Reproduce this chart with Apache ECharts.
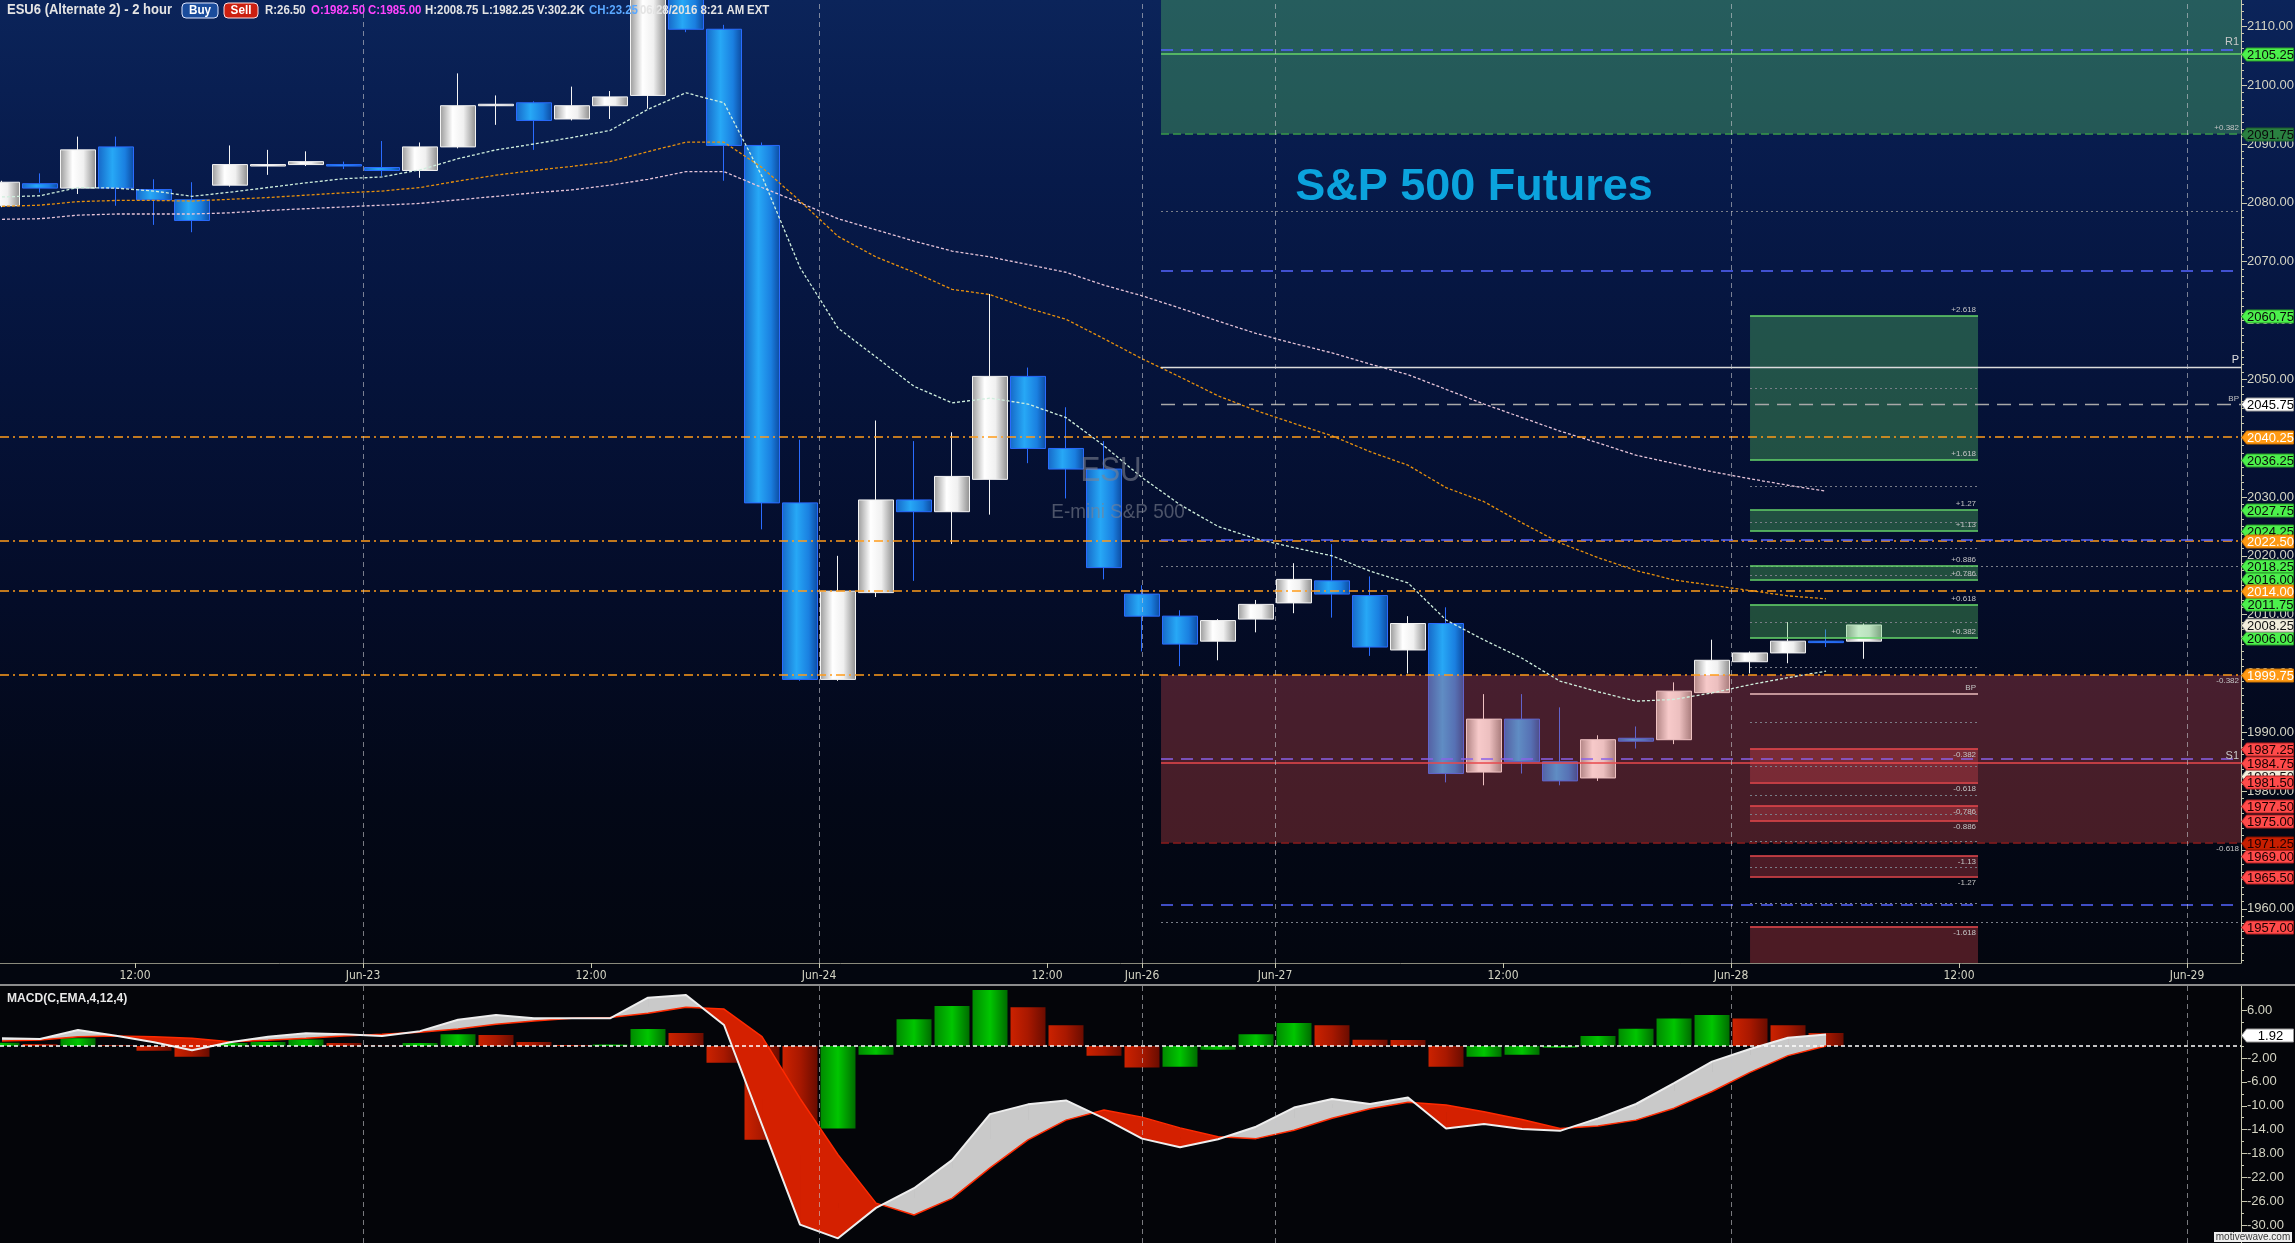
<!DOCTYPE html>
<html>
<head>
<meta charset="utf-8">
<title>ESU6 (Alternate 2) - 2 hour</title>
<script src="https://cdn.jsdelivr.net/npm/echarts@6/dist/echarts.min.js"></script>
<style>
html,body{margin:0;padding:0;background:#03060f;overflow:hidden;}
#wrap{position:relative;width:2295px;height:1243px;}
#bgTop{position:absolute;left:0;top:0;width:2295px;height:985px;background:linear-gradient(180deg,#0b245a 0px,#071a4a 180px,#05133a 380px,#040c28 600px,#030817 800px,#03060f 963px,#03060f 985px);}
#bgBot{position:absolute;left:0;top:985px;width:2295px;height:258px;background:#040509;}
#chart{position:absolute;left:0;top:0;width:2295px;height:1243px;}
</style>
</head>
<body>
<div id="wrap"><div id="bgTop"></div><div id="bgBot"></div><div id="chart"></div></div>
<script>
const NARROW = "'Liberation Sans Narrow','DejaVu Sans Condensed','Liberation Sans',Arial,sans-serif";
const SANS = "'Liberation Sans',Arial,sans-serif";

// x unit: trading-hour slot (hours since Jun-22 00:00, weekend gap removed)
const X_MIN = 4.895, X_MAX = 122.84;
const PRICE_MIN = 1950.8, PRICE_MAX = 2114.47;
const MACD_MIN = -32.98, MACD_MAX = 10.23;

const xTickHours  = [12, 24, 36, 48, 60, 65, 72, 84, 96, 108, 120];
const xTickLabels = ['12:00','Jun-23','12:00','Jun-24','12:00','Jun-26','Jun-27','12:00','Jun-28','12:00','Jun-29'];
const dayLineHours = [24, 48, 65, 72, 96, 120];
const priceTicks = [1960,1970,1980,1990,2000,2010,2020,2030,2040,2050,2060,2070,2080,2090,2100,2110];
const macdTicks = [6,2,-2,-6,-10,-14,-18,-22,-26,-30];
const macdMinorTicks = [8,4,0,-4,-8,-12,-16,-20,-24,-28,-32];

// 2-hour candles
const candleHours = [5,7,9,11,13,15,17,19,21,23,25,27,29,31,33,35,37,39,41,43,45,47,49,51,53,55,57,59,61,63,65,67,69,71,73,75,77,79,81,83,85,87,89,91,93,95,97,99,101,103];
const open  = [2079.5,2083.25,2082.5,2089.5,2082.25,2080.5,2083,2086.25,2086.5,2086.5,2086,2085.5,2089.5,2096.5,2097,2094.25,2096.5,2098.25,2116,2109.5,2089.75,2029,1999,2013.75,2029.5,2027.5,2033,2050.5,2038.25,2034.75,2013.5,2009.75,2005.5,2009.25,2012,2015.75,2013.25,2004,2008.5,1983.25,1992.25,1985,1982.25,1989,1988.75,1996.75,2002,2003.5,2005.5,2005.5];
const close = [2083.5,2082.5,2089,2082.5,2080.5,2077,2086.5,2086.5,2087,2086.25,2085.5,2089.5,2096.5,2096.75,2094,2096.5,2098,2116,2109.5,2089.75,2029,1999,2014,2029.5,2027.5,2033.5,2050.5,2038.25,2034.75,2018,2009.75,2005,2009,2011.75,2016,2013.5,2004.5,2008.5,1983,1992.25,1985,1981.75,1988.75,1988.5,1997,2002.25,2003.5,2005.5,2005.25,2008.25];
const low   = [2079.25,2081.75,2081.5,2079.5,2076.25,2075,2082.75,2084.75,2086.25,2085.75,2084.5,2084.25,2089.25,2093.25,2089,2094,2094.25,2096,2109,2083.75,2024.5,1998.75,1998.75,2013,2015.75,2022,2027,2035.75,2029.75,2016,2003.75,2001.25,2002.25,2007,2010.25,2009.5,2003,2000,1981.5,1981,1983,1981,1981.75,1987.25,1988,1996.5,2000,2001.75,2004.5,2002.5];
const high  = [2083.75,2085,2091.25,2091.25,2084,2083.5,2089.75,2089,2088.75,2087,2090.5,2090.25,2102,2098.25,2097.25,2099.75,2099,2118,2118.5,2110.25,2090.25,2039.75,2020,2043,2039.5,2041,2064.5,2052,2045.25,2039.5,2015,2010.75,2009.25,2012.5,2018.75,2022,2016.5,2009.75,2011.25,1996.5,1996.5,1994.25,1989.5,1991,1998.5,2005.75,2003.75,2008.75,2007.5,2008.5];

// study values (moving averages and MACD) per candle, last candle excluded
const studyHours = [5,7,9,11,13,15,17,19,21,23,25,27,29,31,33,35,37,39,41,43,45,47,49,51,53,55,57,59,61,63,65,67,69,71,73,75,77,79,81,83,85,87,89,91,93,95,97,99,101];
const maFast = [2081.0,2081.2,2082.6,2082.5,2082.0,2081.1,2081.8,2082.6,2083.4,2084.1,2084.4,2085.6,2087.5,2089.0,2090.0,2091.1,2092.3,2095.9,2098.7,2097.0,2084.5,2069.0,2058.7,2053.8,2048.8,2046.0,2046.8,2045.8,2043.5,2038.7,2033.3,2028.7,2025.0,2022.9,2021.4,2020.0,2017.4,2015.4,2009.1,2005.7,2002.6,1998.7,1996.9,1995.3,1995.6,1996.7,1998.1,1999.3,2000.4];
const maMid  = [2079.4,2079.6,2080.2,2080.4,2080.4,2080.3,2080.6,2080.9,2081.3,2081.7,2082.0,2082.6,2083.7,2084.7,2085.5,2086.2,2087.0,2088.7,2090.3,2090.3,2086.0,2080.3,2074.3,2070.8,2068.2,2065.3,2064.4,2062.1,2060.2,2056.9,2053.5,2050.4,2047.2,2044.7,2042.5,2040.4,2037.7,2035.4,2031.6,2029.2,2025.6,2022.2,2019.7,2017.5,2015.9,2015.0,2014.1,2013.2,2012.7];
const maSlow = [2077.2,2077.3,2077.9,2078.1,2078.1,2078.1,2078.3,2078.7,2079.0,2079.3,2079.6,2079.9,2080.5,2081.1,2081.7,2082.2,2083.0,2084.0,2085.3,2085.3,2082.6,2080.0,2077.3,2075.4,2073.5,2071.8,2070.8,2069.5,2068.2,2066.0,2064.2,2062.1,2059.9,2057.8,2056.1,2054.5,2052.6,2050.8,2048.3,2045.8,2043.5,2041.2,2039.2,2037.1,2035.7,2034.3,2033.1,2032.0,2031.0];
const macdHist   = [0.55,0.35,1.3,0.15,-0.8,-1.8,0.5,0.7,1.1,0.5,0.05,0.5,2.0,1.85,0.67,0.17,0.25,2.85,2.18,-2.8,-15.7,-21.7,-13.8,-1.45,4.5,6.7,9.4,6.5,3.5,-1.6,-3.6,-3.45,-0.6,2.0,3.85,3.5,1.05,1.0,-3.45,-1.8,-1.45,-0.3,1.7,2.9,4.6,5.2,4.6,3.5,2.2];
const macdLine   = [1.3,1.2,2.7,1.74,0.63,-0.7,0.63,1.57,2.13,1.97,1.69,2.5,4.4,5.2,4.65,4.65,4.65,8.1,8.56,3.53,-13.2,-29.9,-32.2,-27.1,-23.8,-19.1,-11.4,-9.76,-9.1,-12.1,-15.5,-16.96,-15.6,-13.5,-10.3,-8.87,-9.7,-8.6,-13.8,-13.05,-13.9,-14.2,-12.1,-9.7,-6.2,-2.6,-0.49,1.4,1.92];
const macdSignal = [0.85,1.0,1.57,1.69,1.57,1.3,0.74,0.96,1.3,1.69,1.97,2.3,2.86,3.64,4.2,4.65,4.8,5.48,6.5,6.2,1.57,-8.75,-18.2,-26.3,-28.3,-25.5,-20.4,-15.7,-12.4,-10.7,-11.9,-13.7,-15.2,-15.5,-14.1,-12.1,-10.5,-9.4,-9.87,-11.0,-12.3,-13.8,-13.4,-12.4,-10.4,-7.6,-4.4,-1.6,0.0];

// price levels
const levelsStartHour = 66;
const boxStartHour = 97, boxEndHour = 109;
const orangeLevels = [2040.25, 2022.5, 2014.0, 1999.75];
const blueLevels = [2068.5, 2022.75, 1960.75];
const grayDottedLevels = [2078.5, 2018.25, 1957.75];
const levelR1 = 2106.0, levelR1Fib = 2105.25, pivotP = 2052.0, pivotBP = 2045.75;
const levelPurple = 1985.5, levelS1 = 1984.75;
const greenZone = [2091.75, 2118.0];
const redZone = [1971.25, 1999.75];
const greenBoxes = [[2036.25, 2060.75, '+1.618', '+2.618'], [2024.25, 2027.75, '+1.13', '+1.27'], [2016.0, 2018.25, '+0.786', '+0.886'], [2006.0, 2011.75, '+0.382', '+0.618']];
const redBoxes = [[1981.5, 1987.25, '-0.618', '-0.382'], [1975.0, 1977.5, '-0.886', '-0.786'], [1965.5, 1969.0, '-1.27', '-1.13'], [1940.0, 1957.0, '', '-1.618']];
const boxDottedLevels = [2048.5, 2031.75, 2025.75, 2021.25, 2016.75, 2008.75, 2001.0, 1991.75, 1984.25, 1979.25, 1976.0, 1971.5, 1967.0, 1961.0];
const boxBP = 1996.5;

// right-axis value tags
const tagCream  = [1982.5];
const tagGreen  = [2105.25, 2060.75, 2036.25, 2027.75, 2024.25, 2018.25, 2016.0, 2011.75, 2006.0];
const tagDarkGreen = [2091.75];
const tagWhite  = [2045.75];
const tagOrange = [2040.25, 2022.5, 2014.0, 1999.75];
const tagRed    = [1987.25, 1984.75, 1981.5, 1977.5, 1975.0, 1969.0, 1965.5, 1957.0];
const tagDarkRed = [1971.25];
const tagLast   = [2008.25];

// header strip
const headerItems = [
  ['R:26.50', 265, '#e4e4e4'], ['O:1982.50', 311, '#ff44ff'], ['C:1985.00', 368, '#ff44ff'],
  ['H:2008.75', 425, '#e4e4e4'], ['L:1982.25', 482, '#e4e4e4'], ['V:302.2K', 537, '#e4e4e4'],
  ['CH:23.25', 589, '#5aa8ff'], ['06/28/2016 8:21 AM', 640, '#e4e4e4'], ['EXT', 747, '#e4e4e4']
];

// ---------- styles ----------
function hgrad(stops){ return {type:'linear',x:0,y:0,x2:1,y2:0,colorStops:stops.map(s=>({offset:s[0],color:s[1]}))}; }
const BLUE_BODY  = hgrad([[0,'#1668c8'],[0.4,'#27a8f6'],[0.75,'#1a7fe0'],[1,'#0c4aa0']]);
const WHITE_BODY = hgrad([[0,'#9a9a9a'],[0.35,'#ffffff'],[0.65,'#f0f0f0'],[1,'#8c8c8c']]);
const GREEN_BAR  = hgrad([[0,'#008a00'],[0.5,'#00c600'],[1,'#006c00']]);
const RED_BAR    = hgrad([[0,'#cc2200'],[0.5,'#a81800'],[1,'#6a0c00']]);

const ORANGE = {color:'#ff9c1a', width:1.5, type:[9,4,2,4]};
const BLUE_DASH = {color:'#5566ff', width:1.5, type:[12,8]};
const GRAY_DOT = {color:'#7a7e88', width:1, type:[2,3]};
const GRAY_DASH = {color:'#a8a8a8', width:1.3, type:[14,8]};
const WHITE_SOLID = {color:'#dcdcdc', width:1.3, type:'solid'};
const GREEN_SOLID = {color:'#66d46a', width:1.5, type:'solid'};
const GREEN_DASH = {color:'#3a9a4a', width:1.5, type:[8,4]};
const RED_SOLID = {color:'#e8484c', width:1.5, type:'solid'};
const RED_DASH = {color:'#8c1c1c', width:1.5, type:[8,4]};
const PURPLE_DASH = {color:'#8a62e8', width:1.5, type:[12,8]};
const PINK_SOLID = {color:'#ecbcbc', width:1.5, type:'solid'};
const DAY_LINE = {color:'rgba(200,200,205,0.6)', width:1, type:[5,4]};

function lab(text, pos, size, color){ return {show:true, formatter:text, position:pos, fontSize:size, color:color||'#c4c4c4', fontFamily:SANS, distance:2}; }
const NOLAB = {show:false};

// ---------- marker construction ----------
const mainLines = [];
function seg(v, x0, x1, style, label){ mainLines.push([{coord:[x0, v], lineStyle:style, label:label||NOLAB}, {coord:[x1, v]}]); }
orangeLevels.forEach(v => seg(v, X_MIN, X_MAX, ORANGE, v === redZone[1] ? lab('-0.382','insideEndBottom',8) : null));
blueLevels.forEach(v => seg(v, levelsStartHour, X_MAX, BLUE_DASH));
grayDottedLevels.forEach(v => seg(v, levelsStartHour, X_MAX, GRAY_DOT));
seg(levelR1, levelsStartHour, X_MAX, BLUE_DASH, lab('R1','insideEndTop',11,'#c8c8c8'));
seg(levelR1Fib, levelsStartHour, X_MAX, GREEN_SOLID);
seg(greenZone[0], levelsStartHour, X_MAX, GREEN_DASH, lab('+0.382','insideEndTop',8));
seg(pivotP, levelsStartHour, X_MAX, WHITE_SOLID, lab('P','insideEndTop',11,'#e0e0e0'));
seg(pivotBP, levelsStartHour, X_MAX, GRAY_DASH, lab('BP','insideEndTop',8));
seg(levelPurple, levelsStartHour, X_MAX, PURPLE_DASH);
seg(levelS1, levelsStartHour, X_MAX, RED_SOLID, lab('S1','insideEndTop',11,'#c8c8c8'));
seg(redZone[0], levelsStartHour, X_MAX, RED_DASH, lab('-0.618','insideEndBottom',8));
boxDottedLevels.forEach(v => seg(v, boxStartHour, boxEndHour, GRAY_DOT));
seg(boxBP, boxStartHour, boxEndHour, PINK_SOLID, lab('BP','insideEndTop',8));
greenBoxes.forEach(b => { seg(b[0], boxStartHour, boxEndHour, GREEN_SOLID, lab(b[2],'insideEndTop',8)); seg(b[1], boxStartHour, boxEndHour, GREEN_SOLID, lab(b[3],'insideEndTop',8)); });
redBoxes.forEach(b => { if (b[2]) seg(b[0], boxStartHour, boxEndHour, RED_SOLID, lab(b[2],'insideEndBottom',8)); seg(b[1], boxStartHour, boxEndHour, RED_SOLID, lab(b[3],'insideEndBottom',8)); });

const ZONE_GREEN = 'rgba(90,200,100,0.35)';
const ZONE_RED = 'rgba(230,80,80,0.30)';
const BOX_RED = 'rgba(230,70,80,0.32)';
const areas = [];
areas.push([{coord:[levelsStartHour, greenZone[0]], itemStyle:{color:ZONE_GREEN}}, {coord:[X_MAX, greenZone[1]]}]);
areas.push([{coord:[levelsStartHour, redZone[0]], itemStyle:{color:ZONE_RED}}, {coord:[X_MAX, redZone[1]]}]);
greenBoxes.forEach(b => areas.push([{coord:[boxStartHour, b[0]], itemStyle:{color:ZONE_GREEN}}, {coord:[boxEndHour, b[1]]}]));
redBoxes.forEach(b => areas.push([{coord:[boxStartHour, b[0]], itemStyle:{color:BOX_RED}}, {coord:[boxEndHour, b[1]]}]));

// minor ticks for price axis (every 1.25 pt)
const priceMinorTicks = [];
for (let k = 1; k * 1.25 + 1950 < PRICE_MAX; k++) { const v = 1950 + k * 1.25; if (v % 10 !== 0 && v > PRICE_MIN) priceMinorTicks.push(v); }

// ---------- tag renderer ----------
const TAG_STYLE = {
  cream:{bg:'#f2eedc', fg:'#111', border:'#9a9a90'},
  green:{bg:'#4cf04c', fg:'#0a0a0a', border:'#2a9a2a'},
  darkgreen:{bg:'#2a8040', fg:'#0a0a0a', border:'#1a5a2a'},
  white:{bg:'#ffffff', fg:'#000', border:'#999'},
  orange:{bg:'#ff9a14', fg:'#ffffff', border:'#c87000'},
  red:{bg:'#ff4a4a', fg:'#1a0000', border:'#b02020'},
  darkred:{bg:'#c81e00', fg:'#200000', border:'#801000'}
};
function tagSeries(values, st, xi, yi){
  return {type:'custom', xAxisIndex:xi, yAxisIndex:yi, z:8, silent:true, clip:false, animation:false,
    data: values.map(v => [X_MAX, v]), encode:{x:0, y:1},
    renderItem: (params, api) => {
      const p = api.coord([api.value(0), api.value(1)]);
      const x = p[0] + 0.5, y = Math.round(p[1]) + 0.5;
      return {type:'group', children:[
        {type:'polygon', shape:{points:[[x,y],[x+5,y-6.5],[x+52,y-6.5],[x+52,y+6.5],[x+5,y+6.5]]}, style:{fill:st.bg, stroke:st.border, lineWidth:1}},
        {type:'text', style:{text:api.value(1).toFixed(2), x:x+29, y:y+1, align:'center', verticalAlign:'middle', fill:st.fg, font:'13px ' + SANS}}
      ]};
    }};
}

// ---------- MACD fill renderer ----------
function macdFill(params, api){
  const i = params.dataIndex;
  if (i >= macdLine.length - 1) return null;
  const h0 = studyHours[i], h1 = studyHours[i+1];
  const m0 = macdLine[i], m1 = macdLine[i+1], s0 = macdSignal[i], s1 = macdSignal[i+1];
  const d0 = m0 - s0, d1 = m1 - s1;
  const C = (h, v) => api.coord([h, v]);
  const GRAY = '#c9c9c9', RED = '#d42000';
  if (d0 * d1 >= 0) {
    return {type:'polygon', shape:{points:[C(h0,m0), C(h1,m1), C(h1,s1), C(h0,s0)]}, style:{fill:(d0 + d1) >= 0 ? GRAY : RED}};
  }
  const t = d0 / (d0 - d1);
  const hx = h0 + t * (h1 - h0), vx = m0 + t * (m1 - m0);
  return {type:'group', children:[
    {type:'polygon', shape:{points:[C(h0,m0), C(hx,vx), C(h0,s0)]}, style:{fill:d0 >= 0 ? GRAY : RED}},
    {type:'polygon', shape:{points:[C(hx,vx), C(h1,m1), C(h1,s1)]}, style:{fill:d1 >= 0 ? GRAY : RED}}
  ]};
}

// ---------- graphics ----------
const HFONT = 'bold 13px ' + SANS;
const graphics = [
  {type:'rect', shape:{x:0, y:984, width:2295, height:2}, style:{fill:'#8c8c8c'}, silent:true, z:20},
  {type:'text', x:1474, y:188, silent:true, z:1, style:{text:'S&P 500 Futures', font:'bold 45px ' + SANS, fill:'#0ba3dd', align:'center', verticalAlign:'middle'}},
  {type:'text', x:1111, y:471, scaleX:0.85, silent:true, z:20, style:{text:'ESU', font:'35px ' + SANS, fill:'rgba(125,130,145,0.6)', align:'center', verticalAlign:'middle'}},
  {type:'text', x:1118, y:512, scaleX:0.9, silent:true, z:20, style:{text:'E-mini S&P 500', font:'21px ' + SANS, fill:'rgba(125,130,145,0.6)', align:'center', verticalAlign:'middle'}},
  {type:'text', x:7, y:10, scaleX:0.93, silent:true, z:20, style:{text:'ESU6 (Alternate 2) - 2 hour', font:'bold 14px ' + SANS, fill:'#e4e4e4', verticalAlign:'middle'}},
  {type:'rect', shape:{x:182, y:3, width:36, height:15, r:4}, style:{fill:'#1a4c9c', stroke:'#dfe6ff', lineWidth:1}, silent:true, z:20},
  {type:'text', x:200, y:10.5, scaleX:0.9, silent:true, z:21, style:{text:'Buy', font:HFONT, fill:'#ffffff', align:'center', verticalAlign:'middle'}},
  {type:'rect', shape:{x:224, y:3, width:34, height:15, r:4}, style:{fill:'#cc2010', stroke:'#ffe0e0', lineWidth:1}, silent:true, z:20},
  {type:'text', x:241, y:10.5, scaleX:0.9, silent:true, z:21, style:{text:'Sell', font:HFONT, fill:'#ffffff', align:'center', verticalAlign:'middle'}},
  {type:'text', x:7, y:998, scaleX:0.93, silent:true, z:20, style:{text:'MACD(C,EMA,4,12,4)', font:HFONT, fill:'#e8e8e8', verticalAlign:'middle'}},
  {type:'rect', shape:{x:2214, y:1232, width:78, height:10}, style:{fill:'#eeeeee'}, silent:true, z:20},
  {type:'text', x:2253, y:1237.5, silent:true, z:21, style:{text:'motivewave.com', font:'10px ' + SANS, fill:'#3a3a3a', align:'center', verticalAlign:'middle'}}
];
headerItems.forEach(it => graphics.push({type:'text', x:it[1], y:10.5, scaleX:0.88, silent:true, z:20, style:{text:it[0], font:HFONT, fill:it[2], verticalAlign:'middle'}}));

// ---------- axes ----------
const axisColor = '#c8c8b0';
const labelColor = '#d4d4c4';
const option = {
  backgroundColor:'transparent',
  animation:false,
  grid:[
    {left:0, top:0, width:2241, height:963, containLabel:false, outerBoundsMode:'none'},
    {left:0, top:985, width:2241, height:258, containLabel:false, outerBoundsMode:'none'}
  ],
  xAxis:[
    {gridIndex:0, type:'value', min:X_MIN, max:X_MAX,
     axisLine:{show:true, onZero:false, lineStyle:{color:'#8a8a7c', width:1}},
     axisTick:{show:true, customValues:xTickHours, length:5, lineStyle:{color:axisColor}},
     axisLabel:{show:true, customValues:xTickHours, formatter:v => { const i = xTickHours.indexOf(v); return i >= 0 ? xTickLabels[i] : ''; }, color:labelColor, fontFamily:NARROW, fontSize:12, margin:7},
     splitLine:{show:false}},
    {gridIndex:0, type:'value', min:X_MIN, max:X_MAX, offset:5,
     axisLine:{show:true, onZero:false, lineStyle:{color:'#d8d8c8', width:1.5}},
     axisTick:{show:false}, axisLabel:{show:false}, splitLine:{show:false}},
    {gridIndex:1, type:'value', min:X_MIN, max:X_MAX, show:false}
  ],
  yAxis:[
    {gridIndex:0, type:'value', position:'right', min:PRICE_MIN, max:PRICE_MAX,
     axisLine:{show:true, lineStyle:{color:axisColor, width:1}},
     axisTick:{show:true, customValues:priceTicks, length:6, lineStyle:{color:axisColor}},
     axisLabel:{show:true, customValues:priceTicks, formatter:v => v.toFixed(2), color:labelColor, fontFamily:SANS, fontSize:13, margin:6},
     splitLine:{show:false}},
    {gridIndex:0, type:'value', position:'right', min:PRICE_MIN, max:PRICE_MAX,
     axisLine:{show:false}, axisTick:{show:true, customValues:priceMinorTicks, length:3, lineStyle:{color:axisColor}},
     axisLabel:{show:false}, splitLine:{show:false}},
    {gridIndex:1, type:'value', position:'right', min:MACD_MIN, max:MACD_MAX,
     axisLine:{show:true, lineStyle:{color:axisColor, width:1}},
     axisTick:{show:true, customValues:macdTicks, length:6, lineStyle:{color:axisColor}},
     axisLabel:{show:true, customValues:macdTicks, formatter:v => v.toFixed(2), color:labelColor, fontFamily:SANS, fontSize:13, margin:6},
     splitLine:{show:false}},
    {gridIndex:1, type:'value', position:'right', min:MACD_MIN, max:MACD_MAX,
     axisLine:{show:false}, axisTick:{show:true, customValues:macdMinorTicks, length:3, lineStyle:{color:axisColor}},
     axisLabel:{show:false}, splitLine:{show:false}}
  ],
  series:[
    {type:'candlestick', name:'ESU6', xAxisIndex:0, yAxisIndex:0, z:2, barWidth:35, silent:true,
     data: candleHours.map((h, i) => [h, open[i], close[i], low[i], high[i]]),
     itemStyle:{color:WHITE_BODY, color0:BLUE_BODY, borderColor:'#f4f4f4', borderColor0:'#2a6cff', borderWidth:1}},
    {type:'line', name:'levels', xAxisIndex:0, yAxisIndex:0, data:[], silent:true,
     markArea:{silent:true, z:3, data:areas},
     markLine:{silent:true, z:5, symbol:['none','none'], data:mainLines}},
    {type:'line', name:'days', xAxisIndex:0, yAxisIndex:0, data:[], silent:true,
     markLine:{silent:true, z:6, symbol:['none','none'], label:{show:false}, lineStyle:DAY_LINE, data:dayLineHours.map(h => ({xAxis:h}))}},
    {type:'line', name:'MA slow', xAxisIndex:0, yAxisIndex:0, z:4, symbol:'none', silent:true,
     data: studyHours.map((h, i) => [h, maSlow[i]]), lineStyle:{color:'#e6c4d8', width:1.3, type:[3,2]}},
    {type:'line', name:'MA mid', xAxisIndex:0, yAxisIndex:0, z:4, symbol:'none', silent:true,
     data: studyHours.map((h, i) => [h, maMid[i]]), lineStyle:{color:'#e8900c', width:1.3, type:[3,2]}},
    {type:'line', name:'MA fast', xAxisIndex:0, yAxisIndex:0, z:4, symbol:'none', silent:true,
     data: studyHours.map((h, i) => [h, maFast[i]]), lineStyle:{color:'#cfeedd', width:1.3, type:[3,2]}},

    // MACD panel
    {type:'bar', name:'hist', xAxisIndex:2, yAxisIndex:2, z:2, barWidth:35, silent:true,
     data: studyHours.map((h, i) => [h, macdHist[i]]),
     itemStyle:{color: p => (p.dataIndex === 0 || macdHist[p.dataIndex] >= macdHist[p.dataIndex - 1]) ? GREEN_BAR : RED_BAR}},
    {type:'custom', name:'macdFill', xAxisIndex:2, yAxisIndex:2, z:3, silent:true,
     data: studyHours.map((h, i) => [h, macdLine[i], macdSignal[i]]), encode:{x:0, y:[1,2]}, renderItem:macdFill},
    {type:'line', name:'signal', xAxisIndex:2, yAxisIndex:2, z:4, symbol:'none', silent:true,
     data: studyHours.map((h, i) => [h, macdSignal[i]]), lineStyle:{color:'#ff2a00', width:1.5},
     markLine:{silent:true, z:5, symbol:['none','none'], label:{show:false}, lineStyle:{color:'#ffffff', width:1.5, type:[4,3]}, data:[{yAxis:0}]}},
    {type:'line', name:'macd', xAxisIndex:2, yAxisIndex:2, z:4, symbol:'none', silent:true,
     data: studyHours.map((h, i) => [h, macdLine[i]]), lineStyle:{color:'#eeeeee', width:2}},
    {type:'line', name:'days2', xAxisIndex:2, yAxisIndex:2, data:[], silent:true,
     markLine:{silent:true, z:6, symbol:['none','none'], label:{show:false}, lineStyle:DAY_LINE, data:dayLineHours.map(h => ({xAxis:h}))}},

    // tags
    tagSeries(tagCream, TAG_STYLE.cream, 0, 0),
    tagSeries(tagGreen, TAG_STYLE.green, 0, 0),
    tagSeries(tagDarkGreen, TAG_STYLE.darkgreen, 0, 0),
    tagSeries(tagWhite, TAG_STYLE.white, 0, 0),
    tagSeries(tagOrange, TAG_STYLE.orange, 0, 0),
    tagSeries(tagRed, TAG_STYLE.red, 0, 0),
    tagSeries(tagDarkRed, TAG_STYLE.darkred, 0, 0),
    tagSeries(tagLast, TAG_STYLE.cream, 0, 0),
    tagSeries([macdLine[macdLine.length - 1]], TAG_STYLE.white, 2, 2)
  ],
  graphic: graphics
};

const chart = echarts.init(document.getElementById('chart'), null, {renderer:'canvas', width:2295, height:1243});
chart.setOption(option);
</script>
</body>
</html>
